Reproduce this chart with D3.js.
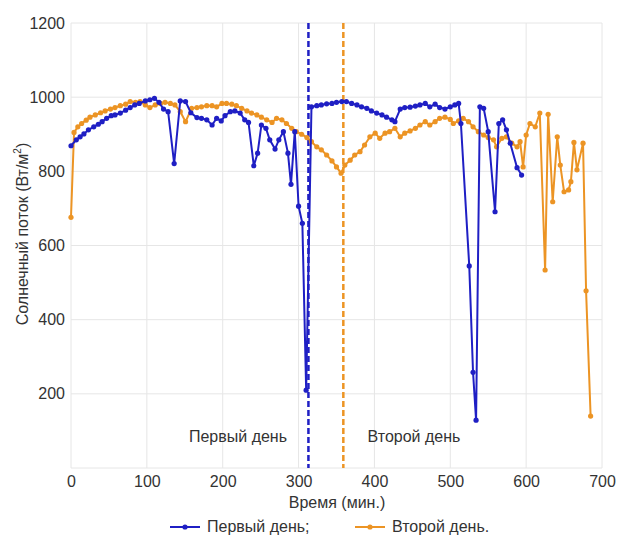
<!DOCTYPE html>
<html>
<head>
<meta charset="utf-8">
<script src="https://cdn.jsdelivr.net/npm/d3@7"></script>
<style>
  body { margin: 0; background: #fff; }
  text { font-family: "Liberation Sans", Arial, sans-serif; fill: #333; }
</style>
</head>
<body>
<svg></svg>
<script>
// первый день
const day1Time = [0, 7, 12, 17, 23, 30, 36, 41, 47, 53, 58, 65, 72, 78, 84, 90, 98, 104, 110, 116,
  122, 128, 136, 144, 151, 158, 166, 172, 179, 186, 192, 198, 203, 210, 216, 223, 229, 234, 241, 246,
  251, 257, 262, 269, 274, 280, 286, 290, 295, 300, 305, 310, 317, 324, 330, 337, 344, 350, 357, 363,
  370, 377, 383, 390, 396, 403, 410, 416, 423, 427, 434, 440, 447, 454, 460, 467, 473, 480, 486, 493,
  500, 506, 511, 514, 525, 530, 534, 539, 544, 550, 559, 564, 569, 574, 579, 588, 594]
const day1Flux = [869, 885, 893, 901, 912, 920, 927, 934, 943, 950, 952, 957, 965, 972, 979, 983, 990, 993, 997, 986,
  968, 961, 821, 990, 988, 958, 945, 943, 939, 925, 943, 936, 950, 961, 963, 957, 939, 932, 815, 849,
  925, 916, 885, 860, 885, 907, 849, 765, 907, 706, 660, 210, 974, 977, 979, 982, 983, 986, 988, 988,
  983, 979, 974, 970, 963, 957, 952, 946, 939, 934, 968, 972, 973, 976, 979, 983, 974, 981, 972, 968,
  974, 979, 983, 929, 545, 258, 129, 974, 970, 907, 691, 929, 939, 912, 876, 810, 790]

// второй день
const day2Time = [0, 4, 9, 14, 20, 25, 32, 39, 45, 52, 58, 65, 72, 78, 85, 91, 98, 104, 111, 118,
  124, 131, 137, 144, 151, 159, 166, 172, 179, 186, 192, 199, 205, 212, 218, 225, 232, 238, 245, 251,
  258, 265, 271, 278, 284, 291, 297, 304, 311, 317, 324, 330, 337, 344, 350, 356, 361, 368, 374, 381,
  387, 394, 401, 407, 414, 420, 427, 434, 440, 447, 454, 460, 467, 473, 480, 486, 493, 500, 504, 511,
  517, 524, 530, 537, 544, 550, 557, 561, 568, 574, 581, 588, 592, 596, 600, 605, 612, 618, 625, 629,
  635, 641, 645, 650, 656, 659, 663, 667, 675, 679, 685]
const day2Flux = [676, 905, 920, 929, 938, 946, 952, 958, 963, 968, 972, 977, 981, 988, 986, 988, 979, 972, 979, 983,
  986, 983, 979, 961, 934, 970, 972, 974, 977, 977, 974, 983, 983, 981, 977, 970, 963, 957, 952, 946,
  939, 932, 943, 939, 929, 916, 907, 900, 891, 880, 866, 858, 844, 828, 812, 795, 817, 830, 844, 853,
  871, 893, 903, 889, 903, 907, 916, 893, 903, 909, 916, 925, 934, 925, 934, 943, 946, 940, 929, 936,
  943, 934, 920, 907, 898, 891, 885, 866, 889, 893, 876, 866, 880, 812, 898, 929, 920, 957, 534, 954,
  718, 893, 817, 745, 750, 772, 878, 804, 876, 478, 140]

const xTicks = [0, 100, 200, 300, 400, 500, 600, 700]
const yTicks = [200, 400, 600, 800, 1000, 1200]
const markers = [313, 359]   // полдень первого и второго дня

const blue = "#1f1fc4"
const orange = "#ec9424"

let width = 619
let height = 537
let mLeft = 71, mRight = 602, mTop = 23, mBottom = 468

let svg = d3.select("svg").attr("width", width).attr("height", height)

let x = d3.scaleLinear().domain([0, 700]).range([mLeft, mRight])
let y = d3.scaleLinear().domain([0, 1200]).range([mBottom, mTop])

// сетка
svg.append("g")
  .selectAll("line")
  .data(xTicks)
  .join("line")
  .attr("x1", d => x(d)).attr("x2", d => x(d))
  .attr("y1", mTop).attr("y2", mBottom)
  .attr("stroke", "#e6e6e6")

svg.append("g")
  .selectAll("line")
  .data([0].concat(yTicks))
  .join("line")
  .attr("x1", mLeft).attr("x2", mRight)
  .attr("y1", d => y(d)).attr("y2", d => y(d))
  .attr("stroke", "#e6e6e6")

// подписи осей
let xAxis = d3.axisBottom(x).tickValues(xTicks).tickFormat(d3.format("d")).tickSize(0).tickPadding(8)
let gx = svg.append("g").attr("transform", "translate(0," + mBottom + ")").call(xAxis)
gx.select(".domain").remove()
gx.selectAll("text").style("font-size", "16px").attr("fill", "#333")

let yAxis = d3.axisLeft(y).tickValues(yTicks).tickFormat(d3.format("d")).tickSize(0).tickPadding(6)
let gy = svg.append("g").attr("transform", "translate(" + mLeft + ",0)").call(yAxis)
gy.select(".domain").remove()
gy.selectAll("text").style("font-size", "16px").attr("fill", "#333")

svg.append("text")
  .attr("x", 337).attr("y", 508)
  .attr("text-anchor", "middle")
  .style("font-size", "16px")
  .text("Время (мин.)")

let yt = svg.append("text")
  .attr("transform", "translate(28," + 234 + ") rotate(-90)")
  .attr("text-anchor", "middle")
  .style("font-size", "16px")
yt.append("tspan").text("Солнечный поток (Вт/м")
yt.append("tspan").attr("dy", -7).style("font-size", "10px").text("2")
yt.append("tspan").attr("dy", 7).text(")")

// вертикальные пунктиры
svg.selectAll(".mark")
  .data(markers)
  .join("line")
  .attr("class", "mark")
  .attr("x1", d => x(d)).attr("x2", d => x(d))
  .attr("y1", mTop).attr("y2", mBottom)
  .attr("stroke", (d, i) => i == 0 ? blue : orange)
  .attr("stroke-width", 2.5)
  .attr("stroke-dasharray", "6,3")

svg.append("text").attr("x", 238).attr("y", 442).attr("text-anchor", "middle")
  .style("font-size", "16px").text("Первый день")
svg.append("text").attr("x", 414).attr("y", 442).attr("text-anchor", "middle")
  .style("font-size", "16px").text("Второй день")

const drawSeries = (times, flux, color) => {
  let pts = times.map((t, i) => [t, flux[i]])
  let line = d3.line().x(d => x(d[0])).y(d => y(d[1]))
  svg.append("path")
    .datum(pts)
    .attr("d", line)
    .attr("fill", "none")
    .attr("stroke", color)
    .attr("stroke-width", 2)
  svg.append("g")
    .selectAll("circle")
    .data(pts)
    .join("circle")
    .attr("cx", d => x(d[0]))
    .attr("cy", d => y(d[1]))
    .attr("r", 2.6)
    .attr("fill", color)
}

drawSeries(day2Time, day2Flux, orange)
drawSeries(day1Time, day1Flux, blue)

// легенда
const legend = [["Первый день;", blue, 170], ["Второй день.", orange, 355]]
legend.forEach(([name, color, lx]) => {
  svg.append("line").attr("x1", lx).attr("x2", lx + 30).attr("y1", 527).attr("y2", 527)
    .attr("stroke", color).attr("stroke-width", 2)
  svg.append("circle").attr("cx", lx + 15).attr("cy", 527).attr("r", 2.6).attr("fill", color)
  svg.append("text").attr("x", lx + 37).attr("y", 532).style("font-size", "16px").text(name)
})
</script>
</body>
</html>
